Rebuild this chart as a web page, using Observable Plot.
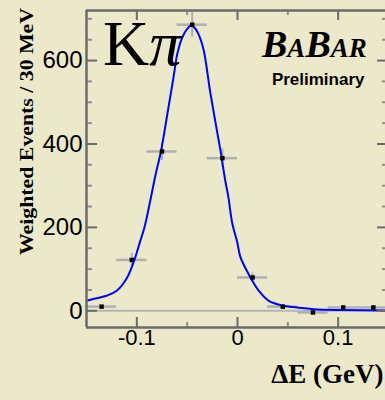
<!DOCTYPE html>
<html><head><meta charset="utf-8">
<script src="https://cdn.jsdelivr.net/npm/d3@7"></script>
<script src="https://cdn.jsdelivr.net/npm/@observablehq/plot@0.6"></script>
<style>
html,body{margin:0;padding:0;background:#ece9ca;overflow:hidden;}
</style></head><body><div id="chart"></div>
<script>
// measured data points (bin centres, weighted counts, errors)
const binCenters = [-0.135, -0.105, -0.075, -0.045, -0.015, 0.015, 0.045, 0.075, 0.105, 0.135];
const binCounts  = [10, 122, 382, 686, 366, 80, 10, -4, 8, 8];
const countErrors = [4, 16, 22, 30, 22, 10, 4, 4, 4, 4];
const binWidth = 0.03;

// fit curve
const fitX = [-0.150, -0.140, -0.130, -0.120, -0.110, -0.103, -0.097, -0.092, -0.087, -0.0815, -0.0758, -0.0698, -0.0639, -0.0623, -0.0599, -0.0549, -0.050, -0.046, -0.0417, -0.0375, -0.0335, -0.0268, -0.0169, -0.012, -0.0092, -0.0052, -0.0003, 0.003, 0.0129, 0.0212, 0.0311, 0.046, 0.055, 0.076, 0.103, 0.150];
const fitY = [24, 30, 36, 48, 78, 118, 164, 204, 260, 325, 385, 470, 555, 580, 615, 655, 676, 684, 676, 656, 624, 520, 384, 310, 275, 210, 165, 128, 80, 48, 24, 12, 9, 4, 2, 1];

// ticks
const xMajorTicks = [-0.1, 0, 0.1];
const xTickLabels = ["-0.1", "0", "0.1"];
const xMinorTicks = [-0.05, 0.05];
const yMajorTicks = [0, 200, 400, 600];
const yTickLabels = ["0", "200", "400", "600"];
const yMinorTicks = [50, 100, 150, 250, 300, 350, 450, 500, 550, 650, 700];

const xDomain = [-0.15, 0.15];
const yDomain = [-40, 720];

const yTitle = "Weighted Events / 30 MeV";
const xTitle = "ΔE (GeV)";

const points = binCenters.map((x, i) => ({x, y: binCounts[i], e: countErrors[i]}));
const fit = fitX.map((x, i) => ({x, y: fitY[i]}));

const frameGray = "#6b6b6b";
const minorGray = "#8f8f8f";
const errGray = "#b0b0b0";
const L = xDomain[0], R = xDomain[1], B = yDomain[0], T = yDomain[1];

const plot = Plot.plot({
  width: 385, height: 400,
  marginLeft: 86, marginTop: 10, marginRight: -3, marginBottom: 73,
  style: {background: "#ece9ca", overflow: "hidden"},
  x: {domain: xDomain, axis: null},
  y: {domain: yDomain, axis: null},
  marks: [
    Plot.ruleY([0], {stroke: "#b5b5b5", strokeWidth: 2}),
    Plot.ruleY(points, {y: "y", x1: d => d.x - binWidth / 2, x2: d => d.x + binWidth / 2, stroke: errGray, strokeWidth: 2.5}),
    Plot.ruleX(points, {x: "x", y1: d => d.y - d.e, y2: d => d.y + d.e, stroke: errGray, strokeWidth: 2}),
    Plot.line(fit, {x: "x", y: "y", stroke: "#0000ff", strokeWidth: 2, curve: "catmull-rom"}),
    Plot.dot(points, {x: "x", y: "y", symbol: "square", r: 2.5, fill: "black"}),
    // ticks: left / right
    Plot.ruleY(yMajorTicks, {y: d => d, x1: L, x2: L, insetLeft: 11, stroke: frameGray, strokeWidth: 2}),
    Plot.ruleY(yMinorTicks, {y: d => d, x1: L, x2: L, insetLeft: 6, stroke: minorGray, strokeWidth: 2}),
    Plot.ruleY(yMajorTicks, {y: d => d, x1: R, x2: R, insetRight: 11, stroke: frameGray, strokeWidth: 2}),
    Plot.ruleY(yMinorTicks, {y: d => d, x1: R, x2: R, insetRight: 6, stroke: minorGray, strokeWidth: 2}),
    // ticks: bottom / top
    Plot.ruleX(xMajorTicks, {x: d => d, y1: B, y2: B, insetBottom: 10, stroke: frameGray, strokeWidth: 2}),
    Plot.ruleX(xMinorTicks, {x: d => d, y1: B, y2: B, insetBottom: 5, stroke: minorGray, strokeWidth: 2}),
    Plot.ruleX(xMajorTicks, {x: d => d, y1: T, y2: T, insetTop: 10, stroke: frameGray, strokeWidth: 2}),
    Plot.ruleX(xMinorTicks, {x: d => d, y1: T, y2: T, insetTop: 5, stroke: minorGray, strokeWidth: 2}),
    // frame
    Plot.ruleX([L, R], {stroke: frameGray, strokeWidth: 2.5}),
    Plot.ruleY([B, T], {stroke: frameGray, strokeWidth: 2.5}),
    // tick labels
    Plot.text(yMajorTicks, {y: d => d, text: (d, i) => yTickLabels[i], frameAnchor: "left", dx: -4, textAnchor: "end",
      fontSize: 24, fontFamily: "Liberation Sans", fill: "black"}),
    Plot.text(xMajorTicks, {x: d => d, text: (d, i) => xTickLabels[i], frameAnchor: "bottom", dy: 17,
      fontSize: 22, fontFamily: "Liberation Sans", fill: "black"}),
    // x axis title
    Plot.text([xTitle], {frameAnchor: "bottom-right", dx: -5, dy: 55, textAnchor: "end",
      fontSize: 27, fontWeight: "bold", fontFamily: "Liberation Serif", fill: "black"}),
    Plot.text(["Preliminary"], {frameAnchor: "top-right", dx: -24, dy: 62, textAnchor: "end",
      fontSize: 17, fontWeight: "bold", fontFamily: "Liberation Sans", fill: "black"})
  ]
});
document.getElementById("chart").appendChild(plot);

// Annotations with mixed styles / exact extents
const svg = d3.select(plot);
svg.append("text")
  .attr("transform", "translate(26,131.5) rotate(-90)")
  .attr("text-anchor", "middle").attr("dy", "0.35em")
  .attr("font-family", "Liberation Serif").attr("font-weight", "bold").attr("font-size", 19)
  .attr("textLength", 247).attr("lengthAdjust", "spacingAndGlyphs")
  .attr("fill", "black").text(yTitle);

const kpi = svg.append("text").attr("x", 103).attr("y", 65).attr("text-anchor", "start")
  .attr("font-family", "Liberation Serif").attr("font-size", 64).attr("fill", "black");
kpi.append("tspan").text("K");
kpi.append("tspan").attr("font-style", "italic").text("π");

const babar = svg.append("text").attr("x", 262).attr("y", 57).attr("text-anchor", "start")
  .attr("font-family", "Liberation Serif").attr("font-weight", "bold").attr("font-style", "italic").attr("fill", "black");
babar.append("tspan").attr("font-size", 38).text("B");
babar.append("tspan").attr("font-size", 27).text("A");
babar.append("tspan").attr("font-size", 38).text("B");
babar.append("tspan").attr("font-size", 27).text("AR");
</script>
</body></html>
